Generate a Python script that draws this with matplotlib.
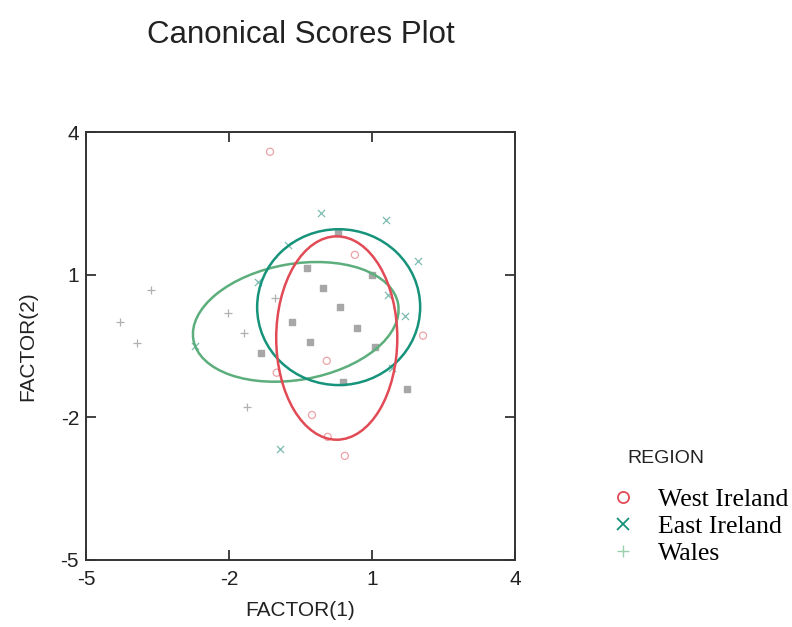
import numpy as np
import matplotlib.pyplot as plt
from matplotlib.patches import Ellipse
from matplotlib.lines import Line2D

plt.rcParams['axes.unicode_minus'] = False

# canonical scores per region
west_x = [-1.14, 0.64, 2.07, 0.05, -0.26, 0.07, 0.43, -1.00]
west_y = [3.59, 1.42, -0.28, -0.81, -1.95, -2.41, -2.81, -1.06]

east_x = [-0.07, 1.29, 1.96, 1.69, -2.71, -0.93, -1.39, -0.77, 1.33, 1.42]
east_y = [2.31, 2.16, 1.29, 0.14, -0.50, -2.66, 0.85, 1.63, 0.58, -0.96]

wales_x = [-3.64, -4.29, -3.93, -2.02, -1.69, -1.62, -1.04]
wales_y = [0.68, 0.01, -0.43, 0.20, -0.22, -1.78, 0.52]

# coincident scores from more than one group
both_x = [0.28, -0.37, -0.03, 0.33, 0.68, -0.30, 1.06, -0.68, -1.33, 0.39, 1.73, 1.00]
both_y = [1.88, 1.15, 0.73, 0.33, -0.12, -0.41, -0.52, 0.01, -0.64, -1.25, -1.40, 1.00]

# confidence ellipses: centre, width, height, angle
ell_west = (0.26, -0.33, 2.54, 4.28, 0)
ell_east = (0.30, 0.32, 3.42, 3.28, 0)
ell_wales = (-0.60, 0.01, 4.36, 2.44, 10)

regions = ['West Ireland', 'East Ireland', 'Wales']

c_west = '#e24a55'
c_east = '#16937a'
c_wales = '#5cae7c'

fig = plt.figure(figsize=(7.92, 6.27), dpi=100)
ax = fig.add_axes([0.1086, 0.107, 0.5417, 0.682])

ax.scatter(wales_x, wales_y, marker='+', s=26, color='#b0b0b0', linewidths=0.9, zorder=2)
ax.scatter(west_x, west_y, marker='o', s=26, facecolors='none', edgecolors='#eaa3a8', linewidths=0.9, zorder=2)
ax.scatter(east_x, east_y, marker='x', s=26, color='#7cbcb0', linewidths=0.9, zorder=2)
ax.scatter(both_x, both_y, marker='s', s=24, color='#a7a7a7', zorder=2)

for (cx, cy, w, h, a), col in [(ell_wales, c_wales), (ell_east, c_east), (ell_west, c_west)]:
    ax.add_patch(Ellipse((cx, cy), w, h, angle=a, fill=False, edgecolor=col, linewidth=1.8, zorder=3))

ax.set_xlim(-5, 4)
ax.set_ylim(-5, 4)
ax.set_xticks([-5, -2, 1, 4])
ax.set_yticks([-5, -2, 1, 4])
ax.tick_params(direction='in', length=7, width=1.2, top=True, right=True,
               labelsize=15, pad=5, colors='#222222')
ax.tick_params(axis='x', pad=7)
for lab in ax.get_xticklabels() + ax.get_yticklabels():
    lab.set_family('Liberation Sans')
for s in ax.spines.values():
    s.set_linewidth(1.4)
    s.set_color('#333333')

ax.set_xlabel('FACTOR(1)', fontsize=15, family='Liberation Sans', labelpad=9, color='#222222')
ax.set_ylabel('FACTOR(2)', fontsize=15, family='Liberation Sans', labelpad=17, color='#222222')

fig.text(0.3794, 0.944, 'Canonical Scores Plot', ha='center', va='center',
         fontsize=22.5, family='Liberation Sans', color='#222222')

fig.text(0.7917, 0.2695, 'REGION', ha='left', va='center',
         fontsize=14, family='Liberation Sans', color='#222222')

handles = [
    Line2D([], [], ls='none', marker='o', mfc='none', mec=c_west, ms=8, mew=1.3),
    Line2D([], [], ls='none', marker='x', color=c_east, ms=8, mew=1.3),
    Line2D([], [], ls='none', marker='+', color='#9ccfae', ms=8, mew=1.0),
]
fig.legend(handles, regions, loc='upper left', bbox_to_anchor=(0.774, 0.222),
           frameon=False, borderaxespad=0, borderpad=0,
           handlelength=0.8, handletextpad=0.96, labelspacing=0.16,
           prop={'family': 'Liberation Serif', 'size': 18.5})

fig.savefig('out.png', dpi=100)
